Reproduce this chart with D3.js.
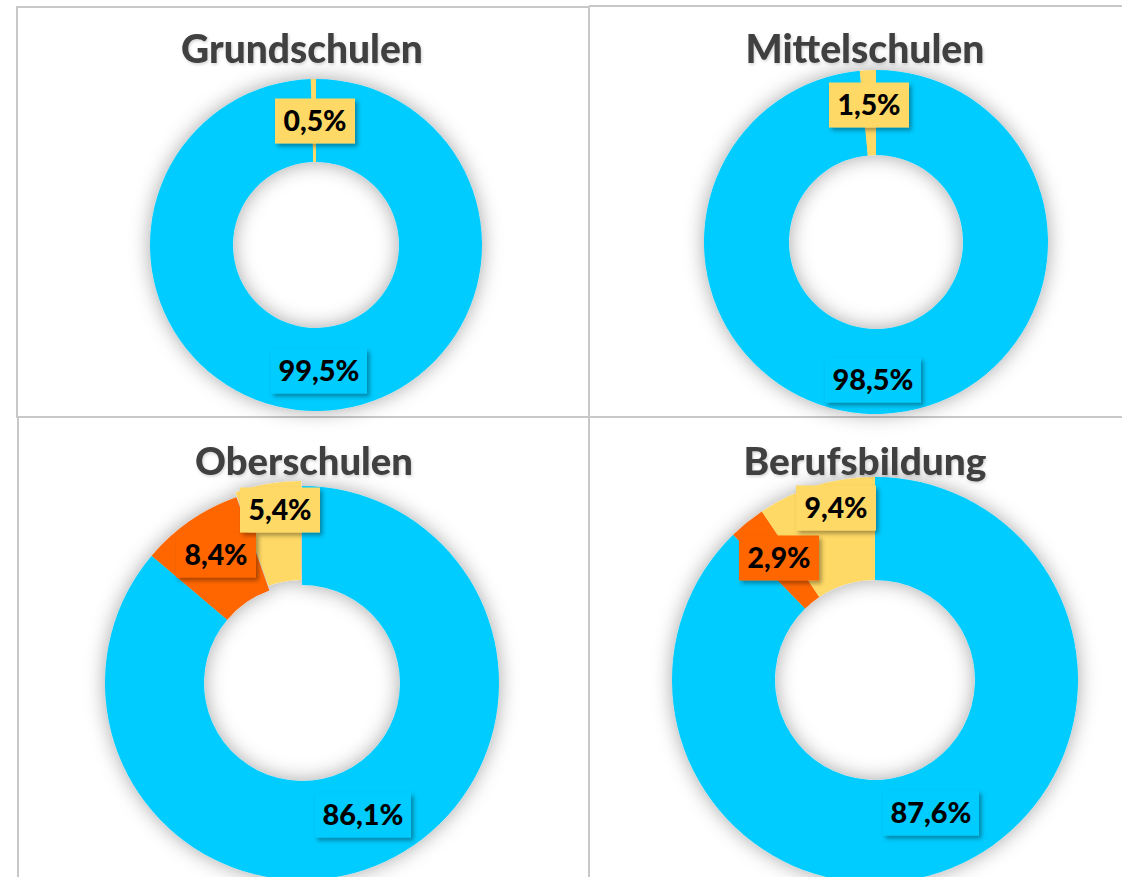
<!DOCTYPE html>
<html><head><meta charset="utf-8">
<script src="https://cdn.jsdelivr.net/npm/d3@7"></script>
<style>html,body{margin:0;padding:0;background:#fff;overflow:hidden}svg{display:block}</style>
</head><body>
<svg id="c" width="1122" height="877"></svg>
<script>
const charts = ["Grundschulen", "Mittelschulen", "Oberschulen", "Berufsbildung"];
const seriesNames = ["Blau", "Orange", "Gelb"];
const blueValues   = [99.5, 98.5, 86.1, 87.6];
const orangeValues = [0, 0, 8.4, 2.9];
const yellowValues = [0.5, 1.5, 5.4, 9.4];
const colors = ["#00CCFF", "#FF6600", "#FFD966"];

// layout (positions/sizes)
const layout = [
  {cx:316, cy:245, ro:166, ri:83, tx:302, ty:63, tw:242,
   lab:[[319,371],[0,0],[315,121]]},
  {cx:876, cy:242, ro:172, ri:87, tx:865, ty:63, tw:239,
   lab:[[873,380],[0,0],[869,105]]},
  {cx:302, cy:683, ro:197, ri:98, tx:304, ty:475, tw:218,
   lab:[[363,815],[216,555],[280,510]], explode:5},
  {cx:875, cy:680, ro:203, ri:100, tx:865, ty:475, tw:243,
   lab:[[931,813],[779,558],[836,508]]}
];

const svg = d3.select("#c");
const defs = svg.append("defs");
const f1 = defs.append("filter").attr("id","glow").attr("x","-30%").attr("y","-30%").attr("width","160%").attr("height","160%");
f1.append("feDropShadow").attr("dx",0).attr("dy",0).attr("stdDeviation",10).attr("flood-color","#000").attr("flood-opacity",0.35);
const f2 = defs.append("filter").attr("id","lshadow").attr("x","-30%").attr("y","-30%").attr("width","160%").attr("height","160%");
f2.append("feDropShadow").attr("dx",2.5).attr("dy",3).attr("stdDeviation",2).attr("flood-color","#000").attr("flood-opacity",0.35);
const f3 = defs.append("filter").attr("id","tshadow").attr("x","-10%").attr("y","-30%").attr("width","120%").attr("height","160%");
f3.append("feDropShadow").attr("dx",1).attr("dy",1.5).attr("stdDeviation",1.5).attr("flood-color","#000").attr("flood-opacity",0.18);

// grid lines
const grid = svg.append("g").attr("stroke","#c8c8c8").attr("stroke-width",2).attr("fill","none");
grid.append("path").attr("d","M17,7 H589 V417 H17 Z");
grid.append("path").attr("d","M589,6 H1122");
grid.append("path").attr("d","M18,417 V877");
grid.append("path").attr("d","M589,417 V877 M589,417 H1122");

const fmt = v => v.toFixed(1).replace(".", ",") + "%";

charts.forEach((name, i) => {
  const L = layout[i];
  const vals = [blueValues[i], orangeValues[i], yellowValues[i]];
  const data = vals.map((v, k) => ({v, k}));
  const pie = d3.pie().value(d => d.v).sort(null).startAngle(0).endAngle(2*Math.PI);
  const arcs = pie(data);
  const arc = d3.arc().innerRadius(L.ri).outerRadius(L.ro);
  const g = svg.append("g").attr("transform", `translate(${L.cx},${L.cy})`);
  const ring = g.append("g").attr("filter","url(#glow)");
  ring.selectAll("path").data(arcs.filter(a => a.data.v > 0)).join("path")
    .attr("d", arc)
    .attr("fill", a => colors[a.data.k])
    .attr("transform", a => {
      if (L.explode && a.data.k === 2) {
        const m = (a.startAngle + a.endAngle) / 2;
        return `translate(${L.explode*Math.sin(m)},${-L.explode*Math.cos(m)})`;
      }
      return null;
    });

  // title
  const t = svg.append("text").attr("x", L.tx).attr("y", L.ty)
    .attr("text-anchor","middle").attr("font-family","Lato, 'Open Sans', sans-serif")
    .attr("font-weight","900").attr("font-size",32).attr("fill","#404040")
    .attr("filter","url(#tshadow)").text(name);
  const w = t.node().getComputedTextLength();
  t.attr("font-size", 32 * L.tw / w);

  // labels
  arcs.forEach(a => {
    if (a.data.v <= 0) return;
    const [lx, ly] = L.lab[a.data.k];
    const lg = svg.append("g").attr("transform", `translate(${lx},${ly})`);
    const txt = fmt(a.data.v);
    const bw = txt.length > 4 ? 96 : 80, bh = 45;
    lg.append("rect").attr("x", -bw/2).attr("y", -bh/2).attr("width", bw).attr("height", bh)
      .attr("fill", colors[a.data.k]).attr("filter","url(#lshadow)");
    const lt = lg.append("text").attr("text-anchor","middle").attr("dy","0.36em")
      .attr("font-family","Lato, 'Open Sans', sans-serif").attr("font-weight","900")
      .attr("font-size",28).attr("fill","#000").text(txt);
    const target = txt.length > 4 ? 81 : 63;
    const lw = lt.node().getComputedTextLength();
    lt.attr("font-size", Math.min(31, 28 * target / lw));
  });
});
</script>
</body></html>
